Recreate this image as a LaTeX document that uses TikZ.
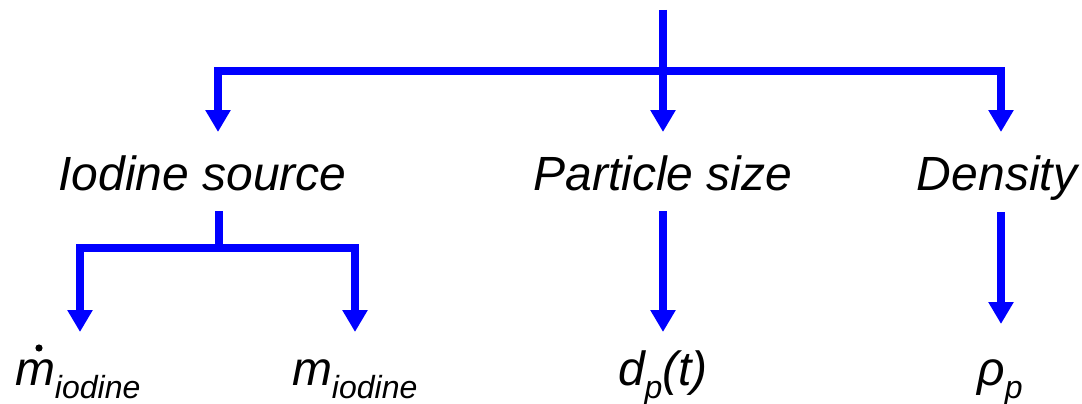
\documentclass[tikz,border=0pt]{standalone}
\usepackage{fontspec}
\setmainfont{Liberation Sans}
\usetikzlibrary{arrows.meta}
\definecolor{lineblue}{RGB}{0,0,255}
\newcommand{\bigf}{\fontsize{48}{52}\selectfont\itshape}
\newcommand{\subf}[1]{\raisebox{-13pt}{\fontsize{32}{34}\selectfont\itshape #1}}
\begin{document}
\begin{tikzpicture}[x=1pt,y=-1pt,
  conn/.style={draw=lineblue,line width=8pt},
  arr/.style={conn,-{Triangle[width=24pt,length=22pt]}},
  lbl/.style={inner sep=0pt,outer sep=0pt,font=\bigf,anchor=base}]
\useasboundingbox (0,0) rectangle (1082,404);
% labels
\node[lbl] (iod) at (202.5,190) {Iodine source};
\node[lbl] (part) at (663,190) {Particle size};
\node[lbl] (dens) at (997,190) {Density};
\node[lbl,anchor=base west] (mdot) at (15,385) {m\subf{iodine}};
\node[lbl,anchor=base west] (mass) at (292,385) {m\subf{iodine}};
\node[lbl,anchor=base west] (dp) at (618,385) {d\subf{p}(t)};
\node[lbl] (rho) at (1000,385) {ρ\subf{p}};
\fill (mdot.base west) ++(24,-37) circle (3.6);
% coordinates
\coordinate (top) at (663,10);
\coordinate (hub) at (663,71);
\coordinate (tL) at (218,132);
\coordinate (tM) at (663,132);
\coordinate (tR) at (1001,132);
\coordinate (iodS) at (219,211);
\coordinate (iodJ) at (219,248);
\coordinate (tmdot) at (80,332);
\coordinate (tmass) at (355,332);
\coordinate (partS) at (663,211);
\coordinate (tdp) at (663,332);
\coordinate (densS) at (1001,212);
\coordinate (trho) at (1001,324);
% connectors
\draw[conn] (top) -- (hub);
\draw[arr] (hub) -| (tL);
\draw[arr] (hub) -| (tR);
\draw[arr] (hub) -- (tM);
\draw[conn] (iodS) -- (iodJ);
\draw[arr] (iodJ) -| (tmdot);
\draw[arr] (iodJ) -| (tmass);
\draw[arr] (partS) -- (tdp);
\draw[arr] (densS) -- (trho);
\end{tikzpicture}
\end{document}
